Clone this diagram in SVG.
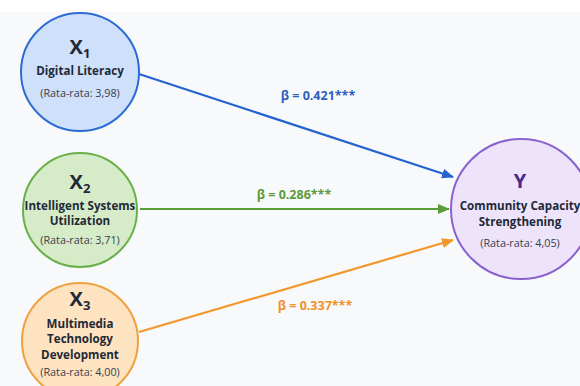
<svg xmlns="http://www.w3.org/2000/svg" width="580" height="386" viewBox="0 0 580 386">
<defs>
<style>
text{font-family:"Open Sans","Liberation Sans",sans-serif;text-anchor:middle;fill:#1f2937}
.v{font-size:20px;font-weight:700}
.sub{font-size:13px}
.n{font-size:11.6px;font-weight:700}
.m{font-size:10.8px;fill:#374151}
.b{font-size:12.5px;font-weight:700}
.c{fill:none;stroke-width:2.2}
</style>
<marker id="ab" viewBox="0 0 12 10" refX="11" refY="5" markerWidth="12" markerHeight="10" markerUnits="userSpaceOnUse" orient="auto"><path d="M0,0L12,5L0,10z" fill="#2563d0"/></marker>
<marker id="ag" viewBox="0 0 12 10" refX="11" refY="5" markerWidth="12" markerHeight="10" markerUnits="userSpaceOnUse" orient="auto"><path d="M0,0L12,5L0,10z" fill="#5a9e3a"/></marker>
<marker id="ao" viewBox="0 0 12 10" refX="11" refY="5" markerWidth="12" markerHeight="10" markerUnits="userSpaceOnUse" orient="auto"><path d="M0,0L12,5L0,10z" fill="#f3972b"/></marker>
</defs>
<rect width="580" height="386" fill="#ffffff"/>
<rect x="0" y="12" width="580" height="374" fill="#f8f9fa"/>
<g id="connectors">
<line class="c" x1="139" y1="74" x2="453" y2="177" stroke="#2563d0" marker-end="url(#ab)"/>
<line class="c" x1="140" y1="209" x2="449" y2="209" stroke="#5a9e3a" marker-end="url(#ag)"/>
<line class="c" x1="139" y1="332" x2="453" y2="240" stroke="#f3972b" marker-end="url(#ao)"/>
<text class="b" x="318" y="100" style="fill:#2b5fc0">β = 0.421***</text>
<text class="b" x="294" y="199" style="fill:#5a9a3a">β = 0.286***</text>
<text class="b" x="315" y="310" style="fill:#f0922b">β = 0.337***</text>
</g>
<g id="x1">
<circle cx="80" cy="72" r="59" fill="#cfe0fa" stroke="#2d6cd3" stroke-width="2"/>
<text class="v" x="80" y="54">X<tspan class="sub" dy="4">1</tspan></text>
<text class="n" x="80" y="75">Digital Literacy</text>
<text class="m" x="80" y="97">(Rata-rata: 3,98)</text>
</g>
<g id="x2">
<circle cx="80" cy="210" r="57" fill="#d6ecc9" stroke="#6ab04a" stroke-width="2"/>
<text class="v" x="80" y="189">X<tspan class="sub" dy="4">2</tspan></text>
<text class="n" x="80" y="210">Intelligent Systems</text>
<text class="n" x="80" y="225">Utilization</text>
<text class="m" x="80" y="244">(Rata-rata: 3,71)</text>
</g>
<g id="x3">
<circle cx="80" cy="341" r="58" fill="#fde3c0" stroke="#f0a040" stroke-width="2"/>
<text class="v" x="80" y="306">X<tspan class="sub" dy="4">3</tspan></text>
<text class="n" x="80" y="328">Multimedia</text>
<text class="n" x="80" y="343">Technology</text>
<text class="n" x="80" y="358.5">Development</text>
<text class="m" x="80" y="376">(Rata-rata: 4,00)</text>
</g>
<g id="y">
<circle cx="521" cy="209" r="70" fill="#ede4fb" stroke="#8a62d0" stroke-width="2"/>
<text class="v" x="520" y="188" style="fill:#4c2a8c">Y</text>
<text class="n" x="520" y="210">Community Capacity</text>
<text class="n" x="520" y="226">Strengthening</text>
<text class="m" x="520" y="247">(Rata-rata: 4,05)</text>
</g>
</svg>
